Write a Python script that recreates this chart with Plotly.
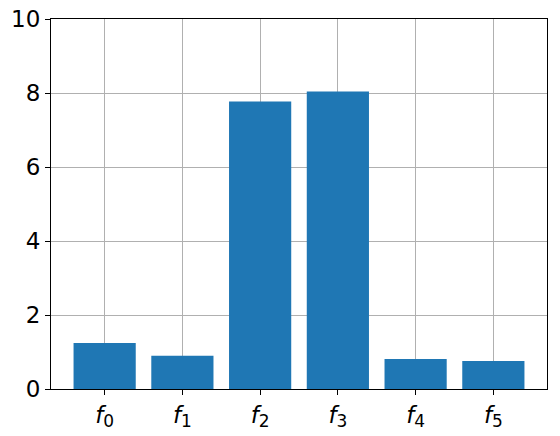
import plotly.graph_objects as go

categories = ["f0", "f1", "f2", "f3", "f4", "f5"]
subscripts = ["0", "1", "2", "3", "4", "5"]
values = [1.245, 0.90, 7.77, 8.04, 0.81, 0.76]
y_ticks = [0, 2, 4, 6, 8, 10]

tick_labels = ["<i>f</i><sub><span style='font-size:17px'>%s</span></sub>" % s for s in subscripts]
positions = list(range(len(categories)))

fig = go.Figure(go.Bar(x=positions, y=values, width=0.8, marker=dict(color="#1f77b4", line=dict(width=0))))

axis_common = dict(
    showline=True, linecolor="black", linewidth=1, mirror=True,
    ticks="outside", ticklen=5, tickwidth=1, tickcolor="black",
    showgrid=True, gridcolor="#b0b0b0", gridwidth=1,
    zeroline=False, layer="above traces", automargin=False,
    ticklabeloverflow="allow",
    tickfont=dict(family="DejaVu Sans", size=23, color="black"),
)

# the page body has an 8px margin, so the figure is sized/positioned to compensate
fig.update_layout(
    width=552, height=428,
    margin=dict(l=43, r=13, t=11, b=47),
    paper_bgcolor="white", plot_bgcolor="white",
    showlegend=False,
    xaxis=dict(range=[-0.69, 5.69], tickvals=positions, ticktext=tick_labels, **axis_common),
    yaxis=dict(range=[0, 10], tickvals=y_ticks, **axis_common),
)

fig.write_html("out.html")
